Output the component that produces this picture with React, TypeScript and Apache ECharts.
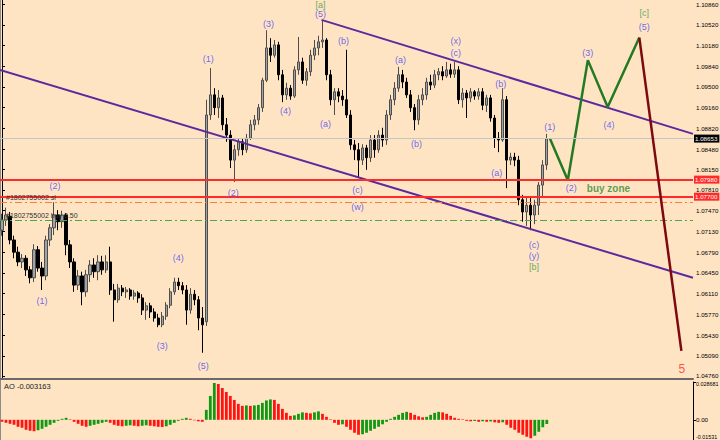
import React, { useEffect, useRef } from 'react';
import * as echarts from 'echarts';

// ---------- data ----------
const SLOT_COUNT = 173; // bar slots across the chart (candles + projection space)
const slots = Array.from({ length: SLOT_COUNT }, (_, i) => String(i));

const opens = [
  1.0715, 1.0732, 1.0738, 1.0699, 1.0679, 1.0663, 1.0669, 1.0650, 1.0637, 1.0683,
  1.0653, 1.0640, 1.0699, 1.0719, 1.0740, 1.0729, 1.0740, 1.0691, 1.0663, 1.0625,
  1.0640, 1.0614, 1.0642, 1.0658, 1.0647, 1.0663, 1.0650, 1.0663, 1.0617, 1.0601,
  1.0620, 1.0614, 1.0617, 1.0607, 1.0612, 1.0604, 1.0584, 1.0591, 1.0581, 1.0571,
  1.0560, 1.0574, 1.0592, 1.0614, 1.0630, 1.0624, 1.0617, 1.0584, 1.0610, 1.0601,
  1.0571, 1.0565, 1.0904, 1.0937, 1.0916, 1.0932, 1.0888, 1.0871, 1.0830, 1.0847,
  1.0860, 1.0847, 1.0866, 1.0888, 1.0896, 1.0916, 1.0961, 1.1014, 1.1002, 1.1019,
  1.0970, 1.0937, 1.0948, 1.0935, 1.0978, 1.0991, 1.0961, 1.0975, 1.1002, 1.1014,
  1.1024, 1.1027, 1.0970, 1.0929, 1.0942, 1.0935, 1.0929, 1.0904, 1.0855, 1.0847,
  1.0830, 1.0850, 1.0834, 1.0863, 1.0847, 1.0871, 1.0863, 1.0904, 1.0929, 1.0948,
  1.0970, 1.0958, 1.0937, 1.0916, 1.0896, 1.0929, 1.0937, 1.0958, 1.0953, 1.0970,
  1.0975, 1.0968, 1.0978, 1.0971, 1.0978, 1.0929, 1.0940, 1.0932, 1.0942, 1.0935,
  1.0942, 1.0920, 1.0932, 1.0899, 1.0866, 1.0863, 1.0929, 1.0830, 1.0835, 1.0830,
  1.0765, 1.0745, 1.0756, 1.0740, 1.0756, 1.0789, 1.0822,
];
const closes = [
  1.0732, 1.0740, 1.0699, 1.0679, 1.0663, 1.0669, 1.0650, 1.0637, 1.0683, 1.0653,
  1.0640, 1.0699, 1.0719, 1.0740, 1.0729, 1.0740, 1.0691, 1.0663, 1.0625, 1.0640,
  1.0614, 1.0642, 1.0658, 1.0647, 1.0663, 1.0650, 1.0663, 1.0617, 1.0601, 1.0620,
  1.0614, 1.0617, 1.0607, 1.0612, 1.0604, 1.0584, 1.0591, 1.0581, 1.0571, 1.0560,
  1.0574, 1.0592, 1.0614, 1.0630, 1.0624, 1.0617, 1.0584, 1.0610, 1.0601, 1.0571,
  1.0560, 1.0904, 1.0937, 1.0916, 1.0932, 1.0888, 1.0871, 1.0830, 1.0847, 1.0860,
  1.0847, 1.0866, 1.0888, 1.0896, 1.0916, 1.0961, 1.1014, 1.1002, 1.1019, 1.0970,
  1.0937, 1.0948, 1.0935, 1.0978, 1.0991, 1.0961, 1.0975, 1.1002, 1.1014, 1.1024,
  1.1027, 1.0970, 1.0929, 1.0942, 1.0935, 1.0929, 1.0904, 1.0855, 1.0847, 1.0830,
  1.0850, 1.0834, 1.0863, 1.0847, 1.0871, 1.0863, 1.0904, 1.0929, 1.0948, 1.0970,
  1.0958, 1.0937, 1.0916, 1.0896, 1.0929, 1.0937, 1.0958, 1.0953, 1.0970, 1.0975,
  1.0968, 1.0978, 1.0971, 1.0978, 1.0929, 1.0940, 1.0932, 1.0942, 1.0935, 1.0942,
  1.0920, 1.0932, 1.0899, 1.0866, 1.0863, 1.0929, 1.0830, 1.0835, 1.0830, 1.0765,
  1.0745, 1.0756, 1.0740, 1.0756, 1.0789, 1.0822, 1.0865,
];
const lows = [
  1.0706, 1.0722, 1.0692, 1.0669, 1.0656, 1.0653, 1.0640, 1.0628, 1.0630, 1.0647,
  1.0617, 1.0633, 1.0689, 1.0707, 1.0715, 1.0719, 1.0674, 1.0653, 1.0614, 1.0617,
  1.0592, 1.0606, 1.0630, 1.0637, 1.0633, 1.0642, 1.0645, 1.0609, 1.0565, 1.0596,
  1.0607, 1.0604, 1.0601, 1.0601, 1.0596, 1.0576, 1.0568, 1.0571, 1.0565, 1.0556,
  1.0556, 1.0568, 1.0587, 1.0609, 1.0617, 1.0610, 1.0560, 1.0578, 1.0592, 1.0551,
  1.0514, 1.0558, 1.0896, 1.0904, 1.0899, 1.0879, 1.0860, 1.0817, 1.0794, 1.0837,
  1.0838, 1.0842, 1.0863, 1.0879, 1.0888, 1.0909, 1.0958, 1.0991, 1.0998, 1.0961,
  1.0925, 1.0929, 1.0929, 1.0932, 1.0970, 1.0955, 1.0952, 1.0968, 1.0994, 1.1002,
  1.1014, 1.0961, 1.0920, 1.0904, 1.0925, 1.0919, 1.0899, 1.0847, 1.0830, 1.0802,
  1.0822, 1.0814, 1.0827, 1.0834, 1.0842, 1.0852, 1.0855, 1.0896, 1.0920, 1.0942,
  1.0948, 1.0932, 1.0909, 1.0879, 1.0888, 1.0920, 1.0929, 1.0945, 1.0948, 1.0961,
  1.0961, 1.0965, 1.0965, 1.0965, 1.0922, 1.0916, 1.0899, 1.0925, 1.0929, 1.0929,
  1.0912, 1.0909, 1.0893, 1.0850, 1.0843, 1.0860, 1.0784, 1.0822, 1.0820, 1.0756,
  1.0729, 1.0722, 1.0715, 1.0725, 1.0740, 1.0768, 1.0814,
];
const highs = [
  1.0742, 1.0752, 1.0745, 1.0706, 1.0688, 1.0676, 1.0674, 1.0656, 1.0692, 1.0689,
  1.0663, 1.0706, 1.0725, 1.0761, 1.0748, 1.0747, 1.0743, 1.0699, 1.0669, 1.0650,
  1.0647, 1.0650, 1.0666, 1.0669, 1.0674, 1.0673, 1.0674, 1.0688, 1.0627, 1.0627,
  1.0625, 1.0622, 1.0620, 1.0617, 1.0615, 1.0610, 1.0597, 1.0596, 1.0587, 1.0578,
  1.0581, 1.0597, 1.0620, 1.0637, 1.0637, 1.0630, 1.0625, 1.0620, 1.0617, 1.0607,
  1.0589, 1.0929, 1.0981, 1.0948, 1.0945, 1.0937, 1.0899, 1.0879, 1.0855, 1.0866,
  1.0866, 1.0873, 1.0896, 1.0904, 1.0922, 1.0965, 1.1043, 1.1030, 1.1027, 1.1024,
  1.0978, 1.0957, 1.0953, 1.0984, 1.1032, 1.0998, 1.0981, 1.1011, 1.1027, 1.1034,
  1.1060, 1.1030, 1.0978, 1.0948, 1.0948, 1.0945, 1.1011, 1.0912, 1.0863, 1.0858,
  1.0856, 1.0855, 1.0871, 1.0871, 1.0879, 1.0883, 1.0912, 1.0937, 1.0958, 1.0983,
  1.0978, 1.0965, 1.0945, 1.0922, 1.0937, 1.0948, 1.0965, 1.0970, 1.0978, 1.0981,
  1.0984, 1.0991, 1.0988, 1.0991, 1.0984, 1.0948, 1.0945, 1.0948, 1.0945, 1.0948,
  1.0948, 1.0937, 1.0937, 1.0904, 1.0876, 1.0948, 1.0935, 1.0842, 1.0842, 1.0837,
  1.0773, 1.0768, 1.0768, 1.0765, 1.0794, 1.0830, 1.0873,
];

// Awesome Oscillator values, one per candle
const aoValues = [
  -0.00151, -0.00227, -0.00302, -0.00378, -0.00529, -0.00604, -0.00755, -0.00831, -0.00868, -0.00793,
  -0.00680, -0.00529, -0.00378, -0.00227, -0.00076, 0.00076, 0.00151, 0.00038, -0.00151, -0.00302,
  -0.00453, -0.00529, -0.00453, -0.00378, -0.00302, -0.00227, -0.00151, -0.00227, -0.00378, -0.00453,
  -0.00491, -0.00453, -0.00415, -0.00453, -0.00491, -0.00453, -0.00415, -0.00453, -0.00491, -0.00529,
  -0.00544, -0.00491, -0.00378, -0.00227, -0.00076, 0.00076, 0.00151, 0.00076, -0.00038, -0.00113,
  -0.00151, 0.00755, 0.01812, 0.02794, 0.02718, 0.02416, 0.02114, 0.01812, 0.01510, 0.01208,
  0.01057, 0.01095, 0.01057, 0.01095, 0.01133, 0.01284, 0.01472, 0.01548, 0.01510, 0.01208,
  0.00831, 0.00529, 0.00302, 0.00340, 0.00453, 0.00566, 0.00529, 0.00491, 0.00566, 0.00642,
  0.00453, 0.00227, 0.00038, -0.00227, -0.00378, -0.00340, -0.00529, -0.00755, -0.00982, -0.01133,
  -0.01095, -0.00982, -0.00831, -0.00680, -0.00529, -0.00340, -0.00151, 0.00076, 0.00227, 0.00378,
  0.00529, 0.00604, 0.00529, 0.00378, 0.00264, 0.00189, 0.00227, 0.00378, 0.00529, 0.00604,
  0.00566, 0.00453, 0.00302, 0.00151, 0.00076, 0.00038, -0.00076, -0.00113, -0.00091, -0.00151,
  -0.00113, -0.00151, -0.00121, -0.00189, -0.00227, -0.00189, -0.00378, -0.00604, -0.00755, -0.00982,
  -0.01133, -0.01284, -0.01397, -0.01208, -0.00906, -0.00566, -0.003163,
];

// price axis tick labels
const priceTicks = [
  1.0476, 1.0509, 1.0543, 1.0577, 1.0611, 1.0645, 1.0679, 1.0713, 1.0747, 1.0781,
  1.0815, 1.0848, 1.0882, 1.0916, 1.095, 1.0984, 1.1018, 1.1052, 1.1086,
];
const aoTicks = [-0.01531, 0, 0.028681];
const aoTickLabels = ['-0.01531', '0.00', '0.028681'];

// horizontal levels
const currentPrice = 1.08653;
const zoneLevels = [1.0798, 1.077];
const stopLevel = 1.0761;
const buyLevel = 1.0732;
const orderTicket = '#1802755002';

// channel lines [barIndex, price]
const upperChannel = [[79.75, 1.106], [172.5, 1.0873]];
const lowerChannel = [[-0.5, 1.0978], [172.5, 1.0637]];

// projected wave path (1)-(2)-(3)-(4)-(5) and final decline
const projIdx = [136.75, 141.25, 146.25, 151.2, 159.1];
const projPrice = [1.0866, 1.0797, 1.0994, 1.0917, 1.1031];
const declineEnd = [169.6, 1.0517];

// wave labels
const labelText = [
  '(2)', '(1)', '(4)', '(3)', '(5)', '(1)', '(2)', '(3)', '(4)', '(5)', '[a]', '(a)', '(b)', '(c)', '(w)',
  '(a)', '(b)', '(x)', '(c)', '(b)', '(a)', '(c)', '(y)', '[b]', '(1)', '(2)', '(3)', '(4)', '(5)', '[c]',
  '4', '5', 'buy zone',
];
const labelIdx = [
  13.25, 10, 44, 40, 50.25, 51.5, 57.75, 66.5, 70.75, 79.5, 79.5, 80.75, 85.25, 88.75, 88.75,
  99.5, 103.5, 113.25, 113.25, 124.5, 123.5, 132.8, 132.8, 132.8, 136.75, 142.1, 146.2, 151.5, 160.3, 160.3,
  160.3, 169.7, 151.4,
];
const labelPrice = [
  1.0788, 1.0599, 1.067, 1.0525, 1.0492, 1.0996, 1.0776, 1.1053, 1.0911, 1.107, 1.1084, 1.0889, 1.1025, 1.0781, 1.0753,
  1.0994, 1.0856, 1.1025, 1.1006, 1.0955, 1.0809, 1.0691, 1.0673, 1.0655, 1.0884, 1.0784, 1.1006, 1.0888, 1.1048, 1.1071,
  1.1099, 1.0487, 1.0784,
];
const labelKind = [
  'w', 'w', 'w', 'w', 'w', 'w', 'w', 'w', 'w', 'w', 'm', 'w', 'w', 'w', 'w',
  'w', 'w', 'w', 'w', 'w', 'w', 'w', 'w', 'm', 'w', 'w', 'w', 'w', 'w', 'm',
  'r', 'r', 'z',
];

// ---------- styles ----------
const BG = '#ffe4c4';
const FONT = 'Liberation Sans, Arial, sans-serif';
const AXIS_FONT = 'Liberation Sans, Arial, sans-serif';
const AXIS_SIZE = 6.2;
const AO_EDGE_SIZE = 5.4;
const PRICE_MIN = 1.0471;
const PRICE_MAX = 1.10926;
const kindStyle: Record<string, any> = {
  w: { color: '#4646f2', fontSize: 9, fontWeight: 'normal' },
  m: { color: '#3b9a3b', fontSize: 9, fontWeight: 'normal' },
  r: { color: '#ff2a2a', fontSize: 12, fontWeight: 'normal' },
  z: { color: '#2f8a2f', fontSize: 10, fontWeight: 'bold' },
};

function buildOption() {
  const candleData = opens.map((o, i) => [o, closes[i], lows[i], highs[i]]);
  const aoData = aoValues.map((v, i) => ({
    value: v,
    itemStyle: { color: i > 0 && v > aoValues[i - 1] ? '#119911' : '#ff1414' },
  }));

  const boxLabel = (bg: string) => ({
    show: true,
    position: 'end',
    distance: 1,
    formatter: (p: any) => Number(p.value).toFixed(5),
    color: '#fff',
    backgroundColor: bg,
    padding: [1, 2, 1, 1],
    fontSize: AXIS_SIZE,
    fontFamily: AXIS_FONT,
  });

  const aoRich = {
    top: { fontSize: AO_EDGE_SIZE, color: '#000', fontFamily: AXIS_FONT, padding: [4, 0, 0, 0] },
    mid: { fontSize: AXIS_SIZE, color: '#000', fontFamily: AXIS_FONT },
    bot: { fontSize: AO_EDGE_SIZE, color: '#000', fontFamily: AXIS_FONT, padding: [0, 0, 6, 0] },
  };
  const aoStyleKey = ['bot', 'mid', 'top'];

  return {
    animation: false,
    backgroundColor: BG,
    textStyle: { fontFamily: FONT },
    title: {
      text: 'AO ' + String(aoValues[aoValues.length - 1]),
      left: 4,
      top: 382,
      padding: 0,
      textStyle: { fontSize: 7.5, fontWeight: 'normal', color: '#222', fontFamily: FONT },
    },
    grid: [
      { left: 0, right: 27, top: 0, height: 379, outerBoundsMode: 'none', containLabel: false },
      { left: 0, right: 27, top: 382, height: 58, outerBoundsMode: 'none', containLabel: false },
    ],
    xAxis: [
      {
        type: 'category', gridIndex: 0, data: slots, boundaryGap: true,
        axisLine: { show: true, lineStyle: { color: '#6a6a6a', width: 2 } },
        axisTick: { show: false }, axisLabel: { show: false }, splitLine: { show: false },
      },
      { type: 'value', gridIndex: 0, min: -0.5, max: SLOT_COUNT - 0.5, show: false },
      { type: 'category', gridIndex: 1, data: slots, show: false },
    ],
    yAxis: [
      {
        type: 'value', gridIndex: 0, position: 'right', min: PRICE_MIN, max: PRICE_MAX,
        axisLine: { show: true, lineStyle: { color: '#000', width: 1 } },
        axisTick: { show: true, length: 3, lineStyle: { color: '#000' }, customValues: priceTicks },
        axisLabel: {
          customValues: priceTicks, formatter: (v: number) => v.toFixed(5),
          fontSize: AXIS_SIZE, color: '#000', margin: 3, fontFamily: AXIS_FONT,
        },
        splitLine: { show: false },
      },
      {
        type: 'value', gridIndex: 1, position: 'right', min: aoTicks[0], max: aoTicks[2],
        axisLine: { show: true, lineStyle: { color: '#000', width: 1 } },
        axisTick: { show: true, length: 3, lineStyle: { color: '#000' }, customValues: aoTicks },
        axisLabel: {
          customValues: aoTicks,
          formatter: (v: number) => {
            const k = aoTicks.findIndex((t) => Math.abs(t - v) < 1e-9);
            return k >= 0 ? '{' + aoStyleKey[k] + '|' + aoTickLabels[k] + '}' : '';
          },
          rich: aoRich,
          fontSize: AXIS_SIZE, color: '#000', margin: 3, fontFamily: AXIS_FONT,
        },
        splitLine: { show: false },
      },
    ],
    graphic: [
      { type: 'line', shape: { x1: 0.5, y1: 0, x2: 0.5, y2: 440 }, style: { stroke: '#8c8c8c', lineWidth: 1 }, silent: true },
    ],
    series: [
      {
        type: 'candlestick',
        xAxisIndex: 0, yAxisIndex: 0,
        data: candleData,
        barWidth: 2.8,
        itemStyle: {
          color: '#a3a3a3', borderColor: '#4d4d4d',
          color0: '#000000', borderColor0: '#000000', borderWidth: 1,
        },
        markLine: {
          silent: true, symbol: 'none', animation: false, precision: 5,
          data: [
            { yAxis: currentPrice, lineStyle: { color: '#c4c4c4', width: 1, type: 'solid' }, label: boxLabel('#000') },
            { yAxis: zoneLevels[0], lineStyle: { color: '#ff2a2a', width: 2, type: 'solid' }, label: boxLabel('#ff2a2a') },
            { yAxis: zoneLevels[1], lineStyle: { color: '#ff2a2a', width: 2, type: 'solid' }, label: boxLabel('#ff2a2a') },
            {
              yAxis: stopLevel, lineStyle: { color: '#ff7a3c', width: 1, type: [7, 3, 2, 3] },
              label: { show: true, position: 'insideStartTop', distance: [6, 1], formatter: orderTicket + ' sl', color: '#333', fontSize: 7, fontFamily: FONT },
            },
            {
              yAxis: buyLevel, lineStyle: { color: '#4aa84a', width: 1, type: [7, 3, 2, 3] },
              label: { show: true, position: 'insideStartTop', distance: [6, 1], formatter: orderTicket + ' buy 0.50', color: '#333', fontSize: 7, fontFamily: FONT },
            },
          ],
        },
        z: 2,
      },
      {
        type: 'line', xAxisIndex: 1, yAxisIndex: 0, data: upperChannel, symbol: 'none', silent: true,
        lineStyle: { color: '#5b2a9e', width: 2 }, z: 3,
      },
      {
        type: 'line', xAxisIndex: 1, yAxisIndex: 0, data: lowerChannel, symbol: 'none', silent: true,
        lineStyle: { color: '#5b2a9e', width: 2 }, z: 3,
      },
      {
        type: 'line', xAxisIndex: 1, yAxisIndex: 0,
        data: projIdx.map((x, k) => [x, projPrice[k]]),
        symbol: 'none', silent: true,
        lineStyle: { color: '#237a23', width: 2.5 }, z: 4,
        markLine: {
          silent: true, animation: false, precision: 5,
          symbol: ['none', 'arrow'], symbolSize: [1, 12],
          label: { show: false },
          lineStyle: { color: '#7d0a12', width: 2.5, type: 'solid' },
          data: [[
            { coord: [projIdx[projIdx.length - 1], projPrice[projPrice.length - 1]] },
            { coord: declineEnd },
          ]],
        },
      },
      {
        type: 'scatter', xAxisIndex: 1, yAxisIndex: 0, clip: false, silent: true,
        symbolSize: 1, itemStyle: { color: 'rgba(0,0,0,0)' }, z: 6,
        data: labelText.map((t, k) => ({
          value: [labelIdx[k], labelPrice[k]],
          label: {
            show: true, position: 'inside', formatter: t,
            fontFamily: FONT, ...kindStyle[labelKind[k]],
          },
        })),
      },
      {
        type: 'bar', xAxisIndex: 2, yAxisIndex: 1, data: aoData, barWidth: 2.8, silent: true,
      },
    ],
  };
}

export default function App() {
  const ref = useRef<HTMLDivElement>(null);
  useEffect(() => {
    document.body.style.margin = '0';
    const chart = echarts.init(ref.current as HTMLDivElement, null, { renderer: 'svg' });
    chart.setOption(buildOption() as any);
    return () => chart.dispose();
  }, []);
  return <div ref={ref} style={{ width: 720, height: 440, background: BG }} />;
}
